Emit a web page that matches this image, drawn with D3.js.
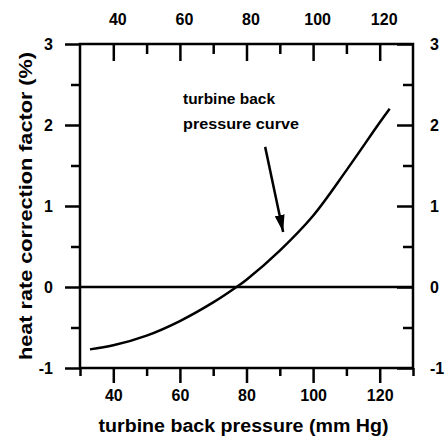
<!DOCTYPE html>
<html>
<head>
<meta charset="utf-8">
<script src="https://cdn.jsdelivr.net/npm/d3@7"></script>
<style>
  body { margin: 0; background: #fff; }
  svg text { font-family: "Liberation Sans", Arial, sans-serif; font-weight: bold; fill: #000; }
</style>
</head>
<body>
<svg id="chart"></svg>
<script>
// curve: back pressure (mm Hg) -> heat rate correction (%)
const pressure = [33, 40, 50, 60, 70, 77, 80, 90, 100, 110, 120, 123]
const correction = [-0.77, -0.72, -0.60, -0.42, -0.19, 0.0, 0.09, 0.45, 0.88, 1.44, 2.03, 2.20]

const xMajorTicks = [40, 60, 80, 100, 120]
const xMinorTicks = [30, 50, 70, 90, 110, 130]
const yMajorTicks = [-1, 0, 1, 2, 3]
const yMinorTicks = [-0.5, 0.5, 1.5, 2.5]

const labelLines = ["turbine back", "pressure curve"]
// arrow from label to curve, in data units
const arrowFrom = [85.6, 1.73]
const arrowTo = [91, 0.68]

const width = 446
const height = 438
const margin = {top: 44, right: 33, bottom: 70, left: 80}
const w = width - margin.left - margin.right
const h = height - margin.top - margin.bottom

const svg = d3.select("#chart").attr("width", width).attr("height", height)

const g = svg.append("g")
	.attr("transform", "translate(" + margin.left + "," + margin.top + ")")

const x = d3.scaleLinear().domain([30, 130]).range([0, w])
const y = d3.scaleLinear().domain([-1, 3]).range([h, 0])

// plain hyphen for negatives, like the scan
const fmt = d => String(d)

function styleAxis(sel) {
	sel.select(".domain").remove()
	sel.selectAll("line").attr("stroke", "#000").attr("stroke-width", 2.5)
	sel.selectAll("text").style("font-size", "16px")
}

// bottom: outward ticks
g.append("g").attr("transform", "translate(0," + h + ")")
	.call(d3.axisBottom(x).tickValues(xMinorTicks).tickSize(8).tickFormat(""))
	.call(styleAxis)
g.append("g").attr("transform", "translate(0," + h + ")")
	.call(d3.axisBottom(x).tickValues(xMajorTicks).tickSize(15).tickPadding(7).tickFormat(fmt))
	.call(styleAxis)

// top: inward ticks
g.append("g")
	.call(d3.axisTop(x).tickValues(xMinorTicks.slice(1, 5)).tickSize(-10).tickFormat(""))
	.call(styleAxis)
g.append("g")
	.call(d3.axisTop(x).tickValues(xMajorTicks).tickSize(-17).tickPadding(19).tickFormat(fmt))
	.call(styleAxis)
	.selectAll("text").attr("dx", 4)

// left: outward ticks
g.append("g")
	.call(d3.axisLeft(y).tickValues(yMinorTicks).tickSize(9).tickFormat(""))
	.call(styleAxis)
g.append("g")
	.call(d3.axisLeft(y).tickValues(yMajorTicks).tickSize(15).tickPadding(12).tickFormat(fmt))
	.call(styleAxis)

// right: inward ticks
g.append("g").attr("transform", "translate(" + w + ",0)")
	.call(d3.axisRight(y).tickValues(yMinorTicks).tickSize(-10).tickFormat(""))
	.call(styleAxis)
g.append("g").attr("transform", "translate(" + w + ",0)")
	.call(d3.axisRight(y).tickValues(yMajorTicks).tickSize(-16).tickPadding(17).tickFormat(fmt))
	.call(styleAxis)

// frame
g.append("rect")
	.attr("width", w)
	.attr("height", h)
	.attr("fill", "none")
	.attr("stroke", "#000")
	.attr("stroke-width", 2.5)

// zero line
g.append("line")
	.attr("x1", 0)
	.attr("x2", w)
	.attr("y1", y(0))
	.attr("y2", y(0))
	.attr("stroke", "#000")
	.attr("stroke-width", 2.5)

// curve
const pts = pressure.map((p, i) => [p, correction[i]])
g.append("path")
	.datum(pts)
	.attr("fill", "none")
	.attr("stroke", "#000")
	.attr("stroke-width", 2.5)
	.attr("d", d3.line()
		.x(d => x(d[0]))
		.y(d => y(d[1]))
		.curve(d3.curveCatmullRom.alpha(0.5)))

// label + arrow
svg.append("defs").append("marker")
	.attr("id", "head")
	.attr("markerUnits", "userSpaceOnUse")
	.attr("viewBox", "0 0 17 10")
	.attr("refX", 17)
	.attr("refY", 5)
	.attr("markerWidth", 17)
	.attr("markerHeight", 10)
	.attr("orient", "auto")
	.append("path")
	.attr("d", "M0,0 L17,5 L0,10 Z")
	.attr("fill", "#000")

g.append("line")
	.attr("x1", x(arrowFrom[0]))
	.attr("y1", y(arrowFrom[1]))
	.attr("x2", x(arrowTo[0]))
	.attr("y2", y(arrowTo[1]))
	.attr("stroke", "#000")
	.attr("stroke-width", 2.5)
	.attr("marker-end", "url(#head)")

g.selectAll(".note")
	.data(labelLines)
	.join("text")
	.attr("class", "note")
	.attr("x", 103)
	.attr("y", (d, i) => 60 + i * 25)
	.attr("textLength", (d, i) => i === 0 ? 92 : 116)
	.attr("lengthAdjust", "spacingAndGlyphs")
	.style("font-size", "15px")
	.text(d => d)

// axis titles
svg.append("text")
	.attr("x", margin.left + w / 2 - 3)
	.attr("y", 432)
	.attr("text-anchor", "middle")
	.attr("textLength", 290)
	.attr("lengthAdjust", "spacingAndGlyphs")
	.style("font-size", "18px")
	.text("turbine back pressure (mm Hg)")

svg.append("text")
	.attr("transform", "translate(32," + (margin.top + h / 2) + ") rotate(-90)")
	.attr("text-anchor", "middle")
	.attr("textLength", 308)
	.attr("lengthAdjust", "spacingAndGlyphs")
	.style("font-size", "19px")
	.text("heat rate correction factor (%)")
</script>
</body>
</html>
